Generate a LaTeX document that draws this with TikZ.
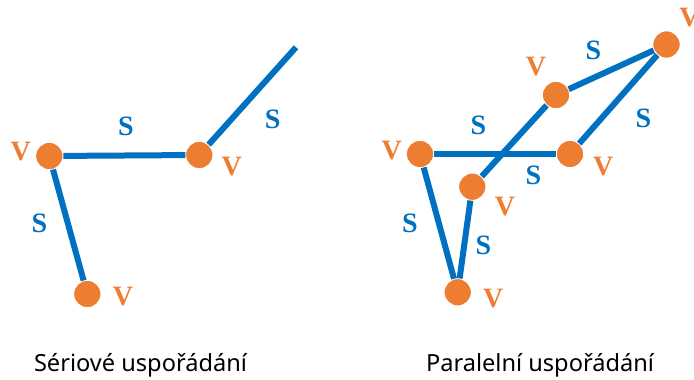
\documentclass[tikz,border=0pt]{standalone}
\usepackage{fontspec}
\setmainfont{Noto Sans}
\newfontfamily\labfont{Liberation Serif}
\definecolor{vorange}{HTML}{ED7D31}
\definecolor{sblue}{HTML}{0070C0}
\begin{document}
\begin{tikzpicture}[x=1pt,y=-1pt,
  vert/.style={circle,fill=vorange,draw=white,line width=1.6pt,minimum size=28pt,inner sep=0pt,outer sep=0pt},
  edge/.style={draw=sblue,line width=6pt,line cap=butt},
  vlab/.style={text=vorange,font=\labfont\bfseries\fontsize{28}{28}\selectfont,inner sep=0pt},
  slab/.style={text=sblue,font=\labfont\bfseries\fontsize{28}{28}\selectfont,inner sep=0pt},
  captext/.style={font=\fontsize{23.6}{24}\selectfont,anchor=base,inner sep=0pt}]
\useasboundingbox (0,0) rectangle (694,380);
\clip (0,0) rectangle (694,380);
% left: serial
\node[vert] (a) at (49.3,156) {};
\node[vert] (b) at (199.3,155) {};
\node[vert] (c) at (87.3,294) {};
\coordinate (e) at (296,47.3);
\draw[edge] (a) -- (b);
\draw[edge] (a) -- (c);
\draw[edge] (b) -- (e);
\node[vlab] (va) at (20.7,151.7) {V};
\node[vlab] (vb) at (231.7,166.7) {V};
\node[vlab] (vc) at (123,296.7) {V};
\node[slab] (s1) at (126,126.7) {S};
\node[slab] (s2) at (272.7,119.3) {S};
\node[slab] (s3) at (39.3,223.3) {S};
% right: parallel
\node[vert] (p1) at (420,154) {};
\node[vert] (p2) at (666.5,44.5) {};
\node[vert] (p3) at (556,95) {};
\node[vert] (p4) at (570,154) {};
\node[vert] (p5) at (472.3,186.7) {};
\node[vert] (p6) at (457.7,292.3) {};
\draw[edge] (p1) -- (p4);
\draw[edge] (p1) -- (p6);
\draw[edge] (p6) -- (p5);
\draw[edge] (p5) -- (p3);
\draw[edge] (p3) -- (p2);
\draw[edge] (p2) -- (p4);
\node[vlab] (vp1) at (391.7,150.7) {V};
\node[vlab] (vp2) at (689.5,18) {V};
\node[vlab] (vp3) at (536,66.7) {V};
\node[vlab] (vp4) at (603.3,166.7) {V};
\node[vlab] (vp5) at (505,206.7) {V};
\node[vlab] (vp6) at (493.3,298.3) {V};
\node[slab] (t1) at (593.3,50) {S};
\node[slab] (t2) at (478.3,125) {S};
\node[slab] (t3) at (643.3,118.3) {S};
\node[slab] (t4) at (533.3,175) {S};
\node[slab] (t5) at (410,223.3) {S};
\node[slab] (t6) at (483.3,245) {S};
% captions
\node[captext] (c1) at (140.5,371) {Sériové uspořádání};
\node[captext] (c2) at (540,371) {Paralelní uspořádání};
\end{tikzpicture}
\end{document}
